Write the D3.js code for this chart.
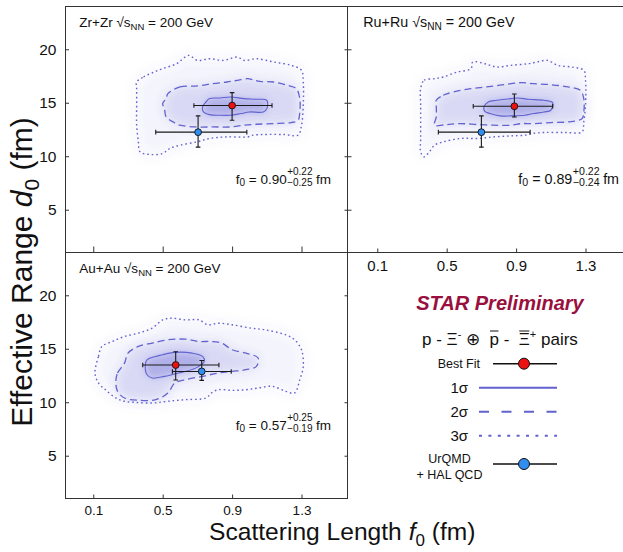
<!DOCTYPE html>
<html><head><meta charset="utf-8">
<script src="https://cdn.jsdelivr.net/npm/d3@7"></script>
<style>
body{margin:0;background:#fff}
svg{display:block}
text{font-family:"Liberation Sans",Arial,Helvetica,sans-serif;fill:#111}
</style>
</head><body>
<svg id="c" width="623" height="552"></svg>
<script>
// ---------------- data ----------------
const xTicks = [0.1, 0.5, 0.9, 1.3];
const yTicks = [5, 10, 15, 20];
const xDomain = [-0.06, 1.565];
const yDomain = [1, 24];
const systems = ["Zr+Zr", "Ru+Ru", "Au+Au"];
const energyLabel = "200 GeV";
const f0Value = ["0.90", "0.89", "0.57"];
const f0Plus = ["+0.22", "+0.22", "+0.25"];
const f0Minus = ["\u22120.25", "\u22120.24", "\u22120.19"];
// best fit: [centre, low, high]
const bestF0 = [[0.90, 0.68, 1.13], [0.89, 0.653, 1.111], [0.575, 0.385, 0.824]];
const bestD0 = [[14.74, 13.37, 15.95], [14.67, 13.67, 15.82], [13.48, 12.08, 14.72]];
// UrQMD + HAL QCD
const urqmdF0 = [[0.704, 0.46, 0.985], [0.70, 0.452, 0.981], [0.725, 0.556, 0.895]];
const urqmdD0 = [[12.25, 10.85, 13.77], [12.25, 10.85, 13.77], [12.88, 12.04, 13.9]];
// contours [f0, d0]
const sigma1Zr = [[0.75,15.08],[0.77,15.39],[0.83,15.45],[0.89,15.54],[0.97,15.39],[1.04,15.33],[1.10,15.23],[1.10,14.45],[1.08,14.14],[1.00,14.14],[0.95,13.99],[0.89,13.83],[0.83,13.83],[0.77,13.89],[0.735,14.14],[0.73,14.61]];
const sigma2Zr = [[0.53,15.85],[0.60,16.48],[0.70,16.57],[0.79,16.79],[0.87,16.94],[0.93,17.10],[0.99,17.25],[1.02,17.16],[1.06,17.00],[1.14,16.94],[1.22,16.63],[1.27,16.32],[1.29,15.39],[1.29,14.14],[1.28,13.36],[1.24,13.15],[1.14,13.05],[1.04,12.99],[0.97,12.90],[0.89,12.74],[0.79,12.74],[0.70,12.74],[0.60,12.90],[0.56,13.21],[0.52,13.68],[0.51,14.45],[0.50,14.92],[0.52,15.39]];
const sigma3Zr = [[0.35,16.94],[0.39,17.41],[0.45,17.87],[0.50,18.19],[0.58,18.65],[0.65,19.43],[0.70,18.96],[0.77,19.12],[0.85,18.96],[0.93,19.27],[0.97,18.96],[1.04,19.12],[1.14,18.81],[1.24,18.50],[1.30,18.03],[1.31,16.94],[1.31,14.77],[1.30,12.90],[1.28,11.97],[1.20,12.03],[1.08,12.03],[1.02,11.97],[0.99,11.81],[0.87,11.81],[0.77,11.66],[0.70,11.35],[0.60,11.03],[0.54,10.72],[0.50,10.26],[0.43,10.16],[0.37,10.41],[0.36,11.35],[0.35,12.90],[0.35,14.77],[0.35,16.32]];
const sigma1Ru = [[0.715,14.61],[0.74,15.08],[0.79,15.23],[0.87,15.39],[0.91,15.45],[0.97,15.33],[1.06,15.23],[1.11,15.01],[1.10,14.30],[1.06,14.14],[1.00,13.99],[0.95,13.83],[0.87,13.77],[0.81,13.77],[0.75,13.99],[0.72,14.20]];
const sigma2Ru = [[0.44,15.23],[0.48,15.70],[0.54,16.01],[0.64,16.32],[0.73,16.48],[0.83,16.69],[0.93,16.88],[1.00,16.79],[1.10,16.69],[1.20,16.48],[1.27,16.16],[1.29,15.39],[1.29,14.14],[1.28,13.52],[1.20,13.21],[1.10,13.15],[1.00,13.05],[0.93,13.05],[0.87,12.90],[0.77,12.90],[0.68,12.96],[0.58,13.05],[0.50,12.96],[0.43,12.90],[0.44,13.68],[0.44,14.77]];
const sigma3Ru = [[0.35,16.32],[0.37,17.10],[0.43,17.25],[0.48,17.41],[0.56,17.87],[0.64,18.19],[0.65,18.81],[0.72,18.65],[0.79,18.34],[0.87,18.50],[0.97,18.65],[1.02,18.81],[1.08,18.96],[1.14,18.50],[1.22,18.34],[1.29,18.03],[1.30,17.10],[1.30,14.77],[1.29,13.21],[1.28,12.28],[1.18,12.22],[1.06,12.22],[0.99,12.12],[0.95,11.97],[0.87,11.90],[0.77,11.81],[0.68,11.66],[0.58,11.66],[0.48,11.34],[0.43,11.03],[0.40,10.41],[0.37,9.94],[0.35,10.41],[0.35,11.66],[0.35,14.77]];
const sigma1Au = [[0.40,13.51],[0.41,13.97],[0.50,14.44],[0.57,14.66],[0.67,14.59],[0.73,14.28],[0.74,13.82],[0.69,13.19],[0.59,12.73],[0.51,12.42],[0.44,12.26],[0.41,12.57]];
const sigma2Au = [[0.23,11.95],[0.24,12.73],[0.28,13.66],[0.30,14.59],[0.36,15.22],[0.44,15.53],[0.53,15.84],[0.63,15.90],[0.71,15.68],[0.78,15.68],[0.84,15.53],[0.90,14.91],[0.98,14.59],[1.05,14.13],[1.04,13.35],[0.98,13.04],[0.90,12.88],[0.82,12.73],[0.73,12.42],[0.63,12.11],[0.57,11.80],[0.53,10.86],[0.46,10.24],[0.36,10.18],[0.28,10.40],[0.24,11.02]];
const sigma3Au = [[0.11,12.73],[0.13,14.28],[0.15,15.22],[0.21,15.68],[0.28,16.15],[0.36,16.46],[0.44,16.93],[0.50,17.70],[0.55,17.86],[0.63,17.70],[0.71,17.70],[0.76,17.24],[0.82,17.39],[0.90,17.24],[1.01,16.93],[1.09,16.77],[1.21,16.30],[1.26,15.84],[1.30,14.91],[1.31,13.35],[1.29,12.11],[1.26,10.86],[1.21,11.02],[1.13,11.49],[1.05,11.33],[0.98,11.17],[0.90,11.11],[0.82,11.17],[0.78,10.86],[0.75,10.40],[0.63,10.24],[0.53,10.09],[0.44,9.93],[0.34,9.99],[0.28,10.09],[0.23,10.40],[0.17,11.17],[0.13,11.80]];
const contours = [[sigma1Zr, sigma2Zr, sigma3Zr], [sigma1Ru, sigma2Ru, sigma3Ru], [sigma1Au, sigma2Au, sigma3Au]];
const legendLabels = ["Best Fit", "1\u03c3", "2\u03c3", "3\u03c3", "UrQMD", "+ HAL QCD"];

// ---------------- layout ----------------
const W = 282, H = 246;
const layout = [
  {left: 65.5, top: 6.5, xr0: 65.5, titleX: 79.3, annX: 235.7, tickB: 6, xLabels: false, yLabels: true, rTicks: true, lTick: 3.5, fs: 1},
  {left: 347.5, top: 6.5, xr0: 349.5, titleX: 363.3, annX: 518.3, tickB: 4, xLabels: true, yLabels: false, rTicks: false, lTick: 4, fs: 1.06},
  {left: 65.5, top: 252.5, xr0: 65.5, titleX: 79.3, annX: 235.7, tickB: 4, xLabels: true, yLabels: true, rTicks: true, lTick: 3.5, fs: 1}
];
const lineCol = "#6262d0";
const fillCol = "#5a5ad0";
const svg = d3.select("#c");
const defs = svg.append("defs");
function blur(id, s) {
  defs.append("filter").attr("id", id).attr("x", "-40%").attr("y", "-40%").attr("width", "180%").attr("height", "180%")
    .append("feGaussianBlur").attr("stdDeviation", s);
}
blur("blurOut", 6.5);
blur("blurMid", 5);
blur("blurIn", 3.5);

layout.forEach((L, i) => {
  const x = d3.scaleLinear().domain(xDomain).range([L.xr0, L.xr0 + W]);
  const y = d3.scaleLinear().domain(yDomain).range([L.top + H, L.top]);
  defs.append("clipPath").attr("id", "clip" + i).append("rect")
    .attr("x", L.left).attr("y", L.top).attr("width", W).attr("height", H);
  const g = svg.append("g");
  const plot = g.append("g").attr("clip-path", `url(#clip${i})`);
  const line = d3.line().x(d => x(d[0])).y(d => y(d[1])).curve(d3.curveCatmullRomClosed.alpha(0.5));
  const [c1, c2, c3] = contours[i];
  // density cloud
  plot.append("path").attr("d", line(c3)).attr("fill", fillCol).attr("fill-opacity", 0.07).attr("filter", "url(#blurOut)");
  plot.append("path").attr("d", line(c2)).attr("fill", fillCol).attr("fill-opacity", 0.17).attr("filter", "url(#blurMid)");
  plot.append("path").attr("d", line(c1)).attr("fill", fillCol).attr("fill-opacity", 0.32).attr("filter", "url(#blurIn)");
  // contour lines
  plot.append("path").attr("d", line(c3)).attr("fill", "none").attr("stroke", lineCol)
    .attr("stroke-width", 1.4).attr("stroke-dasharray", "1.6,2.9");
  plot.append("path").attr("d", line(c2)).attr("fill", "none").attr("stroke", lineCol)
    .attr("stroke-width", 1.3).attr("stroke-dasharray", "7,4");
  plot.append("path").attr("d", line(c1)).attr("fill", "none").attr("stroke", lineCol)
    .attr("stroke-width", 1.1);
  // error bars + points
  const pts = [
    {f: urqmdF0[i], d: urqmdD0[i], col: "#2f8ef0"},
    {f: bestF0[i], d: bestD0[i], col: "#ee1111"}
  ];
  pts.forEach(p => {
    const cx = x(p.f[0]), cy = y(p.d[0]);
    const eb = plot.append("g").attr("stroke", "#1a1a1a").attr("stroke-width", 1.1);
    eb.append("line").attr("x1", x(p.f[1])).attr("x2", x(p.f[2])).attr("y1", cy).attr("y2", cy);
    eb.append("line").attr("x1", cx).attr("x2", cx).attr("y1", y(p.d[1])).attr("y2", y(p.d[2]));
    [p.f[1], p.f[2]].forEach(v => eb.append("line").attr("x1", x(v)).attr("x2", x(v)).attr("y1", cy - 2.3).attr("y2", cy + 2.3));
    [p.d[1], p.d[2]].forEach(v => eb.append("line").attr("y1", y(v)).attr("y2", y(v)).attr("x1", cx - 2.3).attr("x2", cx + 2.3));
    plot.append("circle").attr("cx", cx).attr("cy", cy).attr("r", 3.4)
      .attr("fill", p.col).attr("stroke", "#111").attr("stroke-width", 0.9);
  });
  // frame
  g.append("rect").attr("x", L.left).attr("y", L.top).attr("width", W).attr("height", H)
    .attr("fill", "none").attr("stroke", "#333").attr("stroke-width", 1);
  // ticks
  const axB = d3.axisBottom(x).tickValues(xTicks).tickSizeInner(-L.tickB).tickSizeOuter(0).tickPadding(i === 1 ? 8 : 7)
    .tickFormat(L.xLabels ? d3.format(".1f") : "");
  const gb = g.append("g").attr("transform", `translate(0,${L.top + H})`).call(axB);
  gb.select(".domain").remove();
  gb.selectAll("line").attr("stroke", "#333");
  gb.selectAll("text").style("font-size", i === 1 ? "15px" : "13.5px").attr("fill", "#111");
  const axL = d3.axisLeft(y).tickValues(yTicks).tickSizeInner(-L.lTick).tickSizeOuter(0).tickPadding(9)
    .tickFormat(L.yLabels ? d3.format("d") : "");
  const gl = g.append("g").attr("transform", `translate(${L.left},0)`).call(axL);
  gl.select(".domain").remove();
  gl.selectAll("line").attr("stroke", "#333");
  gl.selectAll("text").style("font-size", "15.5px").attr("fill", "#111");
  if (L.rTicks) {
    const axR = d3.axisRight(y).tickValues(yTicks).tickSizeInner(-3).tickSizeOuter(0).tickFormat("");
    const gr = g.append("g").attr("transform", `translate(${L.left + W},0)`).call(axR);
    gr.select(".domain").remove();
    gr.selectAll("line").attr("stroke", "#333");
  }
  const fs = L.fs;
  // title
  const t = g.append("text").attr("x", L.titleX).attr("y", L.top + 20.3).style("font-size", (13.5 * fs) + "px");
  t.append("tspan").text(systems[i] + " \u221as");
  t.append("tspan").text("NN").style("font-size", (9.5 * fs) + "px").attr("dy", 3);
  t.append("tspan").text(" = " + energyLabel).attr("dy", -3);
  // f0 annotation
  const by = L.top + 177.5;
  const a = g.append("text").attr("x", L.annX).attr("y", by).style("font-size", (13.5 * fs) + "px");
  a.append("tspan").text("f");
  a.append("tspan").text("0").style("font-size", (10 * fs) + "px").attr("dy", 2);
  a.append("tspan").text(" = " + f0Value[i]).attr("dy", -2);
  const aw = a.node().getComputedTextLength();
  const sx = L.annX + aw + 0.5;
  const sp = g.append("text").attr("x", sx).attr("y", by - 9).style("font-size", (10 * fs) + "px").text(f0Plus[i]);
  const sm = g.append("text").attr("x", sx).attr("y", by + 2).style("font-size", (10 * fs) + "px").text(f0Minus[i]);
  const sw = Math.max(sp.node().getComputedTextLength(), sm.node().getComputedTextLength());
  g.append("text").attr("x", sx + sw + 3.5).attr("y", by).style("font-size", (13.5 * fs) + "px").text("fm");
});

// axis titles
const xt = svg.append("text").attr("x", 209).attr("y", 540).style("font-size", "24.6px");
xt.append("tspan").text("Scattering Length ");
xt.append("tspan").text("f").style("font-style", "italic");
xt.append("tspan").text("0").style("font-size", "17px").attr("dy", 6);
xt.append("tspan").text(" (fm)").attr("dy", -6);
const yt = svg.append("text").attr("transform", "translate(32,272) rotate(-90)").attr("text-anchor", "middle").style("font-size", "30px");
yt.append("tspan").text("Effective Range ");
yt.append("tspan").text("d").style("font-style", "italic");
yt.append("tspan").text("0").style("font-size", "21px").attr("dy", 7);
yt.append("tspan").text(" (fm)").attr("dy", -7);

// legend
svg.append("text").attr("x", 500).attr("y", 310).attr("text-anchor", "middle")
  .style("font-size", "20px").style("font-weight", "bold").style("font-style", "italic")
  .style("fill", "#990f3d").text("STAR Preliminary");
const pieces = [
  {t: "p - \u039e"}, {t: "-", sup: true}, {t: " \u2295  "}, {t: "p", over: true},
  {t: " -  "}, {t: "\u039e", over: true}, {t: "+", sup: true}, {t: " pairs"}
];
let px = 422;
const pairY = 345;
pieces.forEach(p => {
  const el = svg.append("text").attr("x", px).attr("y", p.sup ? pairY - 7 : pairY)
    .style("font-size", p.sup ? "11px" : "17px").style("white-space", "pre").attr("xml:space", "preserve").text(p.t);
  const w = el.node().getComputedTextLength();
  if (p.over) {
    svg.append("line").attr("x1", px + 0.5).attr("x2", px + w - 0.5).attr("y1", pairY - 14).attr("y2", pairY - 14)
      .attr("stroke", "#111").attr("stroke-width", 1);
  }
  px += w;
});
// legend rows
const lg = svg.append("g");
lg.append("text").attr("x", 480).attr("y", 367.5).attr("text-anchor", "end").style("font-size", "12.5px").text(legendLabels[0]);
lg.append("line").attr("x1", 493).attr("x2", 557).attr("y1", 363.7).attr("y2", 363.7).attr("stroke", "#111").attr("stroke-width", 1.5);
lg.append("circle").attr("cx", 524).attr("cy", 363.7).attr("r", 5.5).attr("fill", "#ee1111").attr("stroke", "#111").attr("stroke-width", 1);
const sigDash = [null, "10,12.5", "3,6.4"];
[1, 2, 3].forEach((k, j) => {
  const yy = 387.7 + j * 24;
  lg.append("text").attr("x", 468).attr("y", yy + 5).attr("text-anchor", "end").style("font-size", "15px").text(legendLabels[k]);
  const ln = lg.append("line").attr("x1", 479).attr("x2", 557).attr("y1", yy).attr("y2", yy)
    .attr("stroke", lineCol).attr("stroke-width", 2);
  if (sigDash[j]) ln.attr("stroke-dasharray", sigDash[j]);
});
lg.append("text").attr("x", 449.5).attr("y", 463).attr("text-anchor", "middle").style("font-size", "12.5px").text(legendLabels[4]);
lg.append("text").attr("x", 449.5).attr("y", 478.5).attr("text-anchor", "middle").style("font-size", "12.5px").text(legendLabels[5]);
lg.append("line").attr("x1", 493).attr("x2", 557).attr("y1", 464).attr("y2", 464).attr("stroke", "#111").attr("stroke-width", 1.5);
lg.append("circle").attr("cx", 524).attr("cy", 464).attr("r", 5.5).attr("fill", "#2f8ef0").attr("stroke", "#111").attr("stroke-width", 1);
</script>
</body></html>
